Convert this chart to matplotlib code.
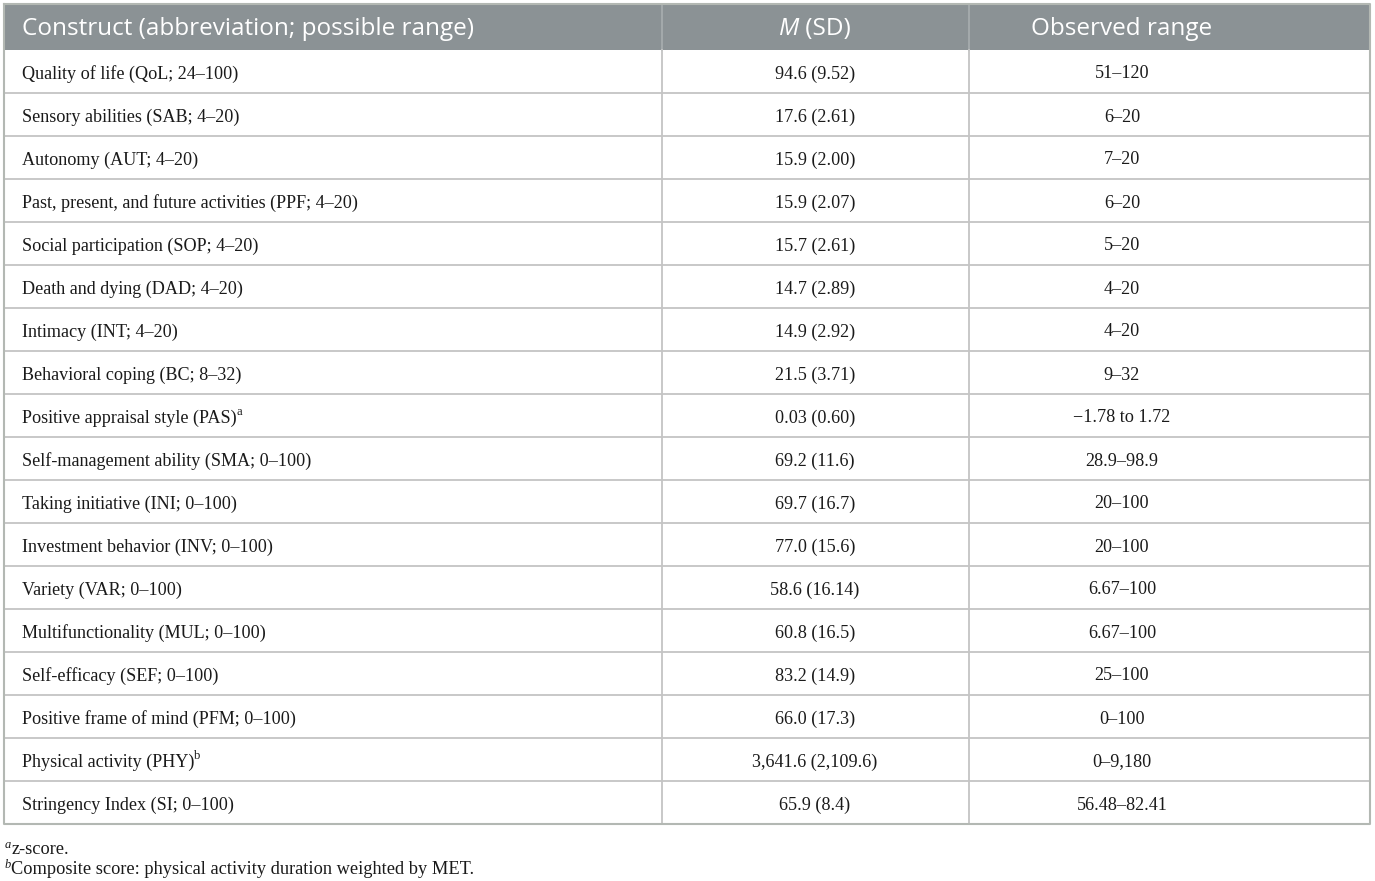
import matplotlib
matplotlib.use("Agg")
import matplotlib.pyplot as plt
from matplotlib.font_manager import FontProperties
from matplotlib.patches import Rectangle

# ---- data ----
header = ["Construct (abbreviation; possible range)", "M (SD)", "Observed range"]
constructs = [
    "Quality of life (QoL; 24–100)",
    "Sensory abilities (SAB; 4–20)",
    "Autonomy (AUT; 4–20)",
    "Past, present, and future activities (PPF; 4–20)",
    "Social participation (SOP; 4–20)",
    "Death and dying (DAD; 4–20)",
    "Intimacy (INT; 4–20)",
    "Behavioral coping (BC; 8–32)",
    "Positive appraisal style (PAS)",
    "Self-management ability (SMA; 0–100)",
    "Taking initiative (INI; 0–100)",
    "Investment behavior (INV; 0–100)",
    "Variety (VAR; 0–100)",
    "Multifunctionality (MUL; 0–100)",
    "Self-efficacy (SEF; 0–100)",
    "Positive frame of mind (PFM; 0–100)",
    "Physical activity (PHY)",
    "Stringency Index (SI; 0–100)",
]
construct_marks = ["", "", "", "", "", "", "", "", "a", "", "", "", "", "", "", "", "b", ""]
mean_sd = [
    "94.6 (9.52)", "17.6 (2.61)", "15.9 (2.00)", "15.9 (2.07)", "15.7 (2.61)",
    "14.7 (2.89)", "14.9 (2.92)", "21.5 (3.71)", "0.03 (0.60)", "69.2 (11.6)",
    "69.7 (16.7)", "77.0 (15.6)", "58.6 (16.14)", "60.8 (16.5)", "83.2 (14.9)",
    "66.0 (17.3)", "3,641.6 (2,109.6)", "65.9 (8.4)",
]
observed_range = [
    "51–120", "6–20", "7–20", "6–20", "5–20", "4–20", "4–20", "9–32",
    "\u22121.78 to 1.72", "28.9–98.9", "20–100", "20–100", "6.67–100", "6.67–100",
    "25–100", "0–100", "0–9,180", "56.48–82.41",
]
footnote_marks = ["a", "b"]
footnotes = ["z-score.", "Composite score: physical activity duration weighted by MET."]

# ---- layout (pixels) ----
W, H = 1375, 881
left, right = 4, 1370
top, head_bot = 4, 50
row_h = 43.0
col_x = [662, 969]
col2_c, col3_c = 815, 1122
text_x = 22

fig = plt.figure(figsize=(W / 100, H / 100), dpi=100)
ax = fig.add_axes([0, 0, 1, 1])
ax.set_xlim(0, W)
ax.set_ylim(H, 0)
ax.axis("off")

hdr_fp = FontProperties(family="Open Sans", size=17.5)
hdr_it = FontProperties(family="Open Sans", style="italic", size=17.5)
body_fp = FontProperties(family="Liberation Serif", size=13.1)
sup_fp = FontProperties(family="Liberation Serif", size=9.0)
sup_it = FontProperties(family="Liberation Serif", style="italic", size=9.0)
foot_fp = FontProperties(family="Liberation Serif", size=13.2)

renderer = fig.canvas.get_renderer()


def width_of(s, fp):
    t = ax.text(0, 0, s, fontproperties=fp)
    bb = t.get_window_extent(renderer)
    t.remove()
    return bb.width  # pixels == data units here


def draw_runs(runs, x, y, align="left", color="#1a1a1a"):
    """runs: list of (text, fontprops, dy)"""
    widths = [width_of(s, fp) for s, fp, dy in runs]
    total = sum(widths)
    if align == "center":
        x = x - total / 2
    for (s, fp, dy), w in zip(runs, widths):
        ax.text(x, y + dy, s, fontproperties=fp, color=color, va="center", ha="left")
        x += w


n = len(constructs)
bottom = head_bot + n * row_h

# header background
ax.add_patch(Rectangle((left, top), right - left, head_bot - top,
                       facecolor="#8b9295", edgecolor="none", zorder=0))
# header column separators
for cx in col_x:
    ax.plot([cx, cx], [top, head_bot], color="#a9aeb0", lw=1.2, zorder=1)

# row lines
for i in range(1, n):
    y = head_bot + i * row_h
    ax.plot([left, right], [y, y], color="#c4c4c4", lw=1.3, zorder=1)
# column lines in body
for cx in col_x:
    ax.plot([cx, cx], [head_bot, bottom], color="#c4c4c4", lw=1.3, zorder=1)
# outer border
ax.plot([left, right, right, left, left], [top, top, bottom, bottom, top],
        color="#b3b8b3", lw=1.5, zorder=2)

# header text
hy = (top + head_bot) / 2 + 2
ax.text(text_x, hy, header[0], fontproperties=hdr_fp, color="white", va="center", ha="left")
m_part, rest = header[1].split(" ", 1)
draw_runs([(m_part, hdr_it, 0), (" " + rest, hdr_fp, 0)], col2_c, hy, align="center", color="white")
ax.text(col3_c, hy, header[2], fontproperties=hdr_fp, color="white", va="center", ha="center")

# body
dy_body = 2.5
for i in range(n):
    yc = head_bot + (i + 0.5) * row_h + dy_body
    runs = [(constructs[i], body_fp, 0)]
    if construct_marks[i]:
        runs.append((construct_marks[i], sup_fp, -6))
    draw_runs(runs, text_x, yc, align="left")
    ax.text(col2_c, yc, mean_sd[i], fontproperties=body_fp, color="#1a1a1a", va="center", ha="center")
    ax.text(col3_c, yc, observed_range[i], fontproperties=body_fp, color="#1a1a1a", va="center", ha="center")

# footnotes
for k, (mk, ft) in enumerate(zip(footnote_marks, footnotes)):
    yc = 850 + k * 19.5
    draw_runs([(mk, sup_it, -5), (ft, foot_fp, 0)], 5, yc, align="left")

fig.savefig("out.png", dpi=100, facecolor="white")
